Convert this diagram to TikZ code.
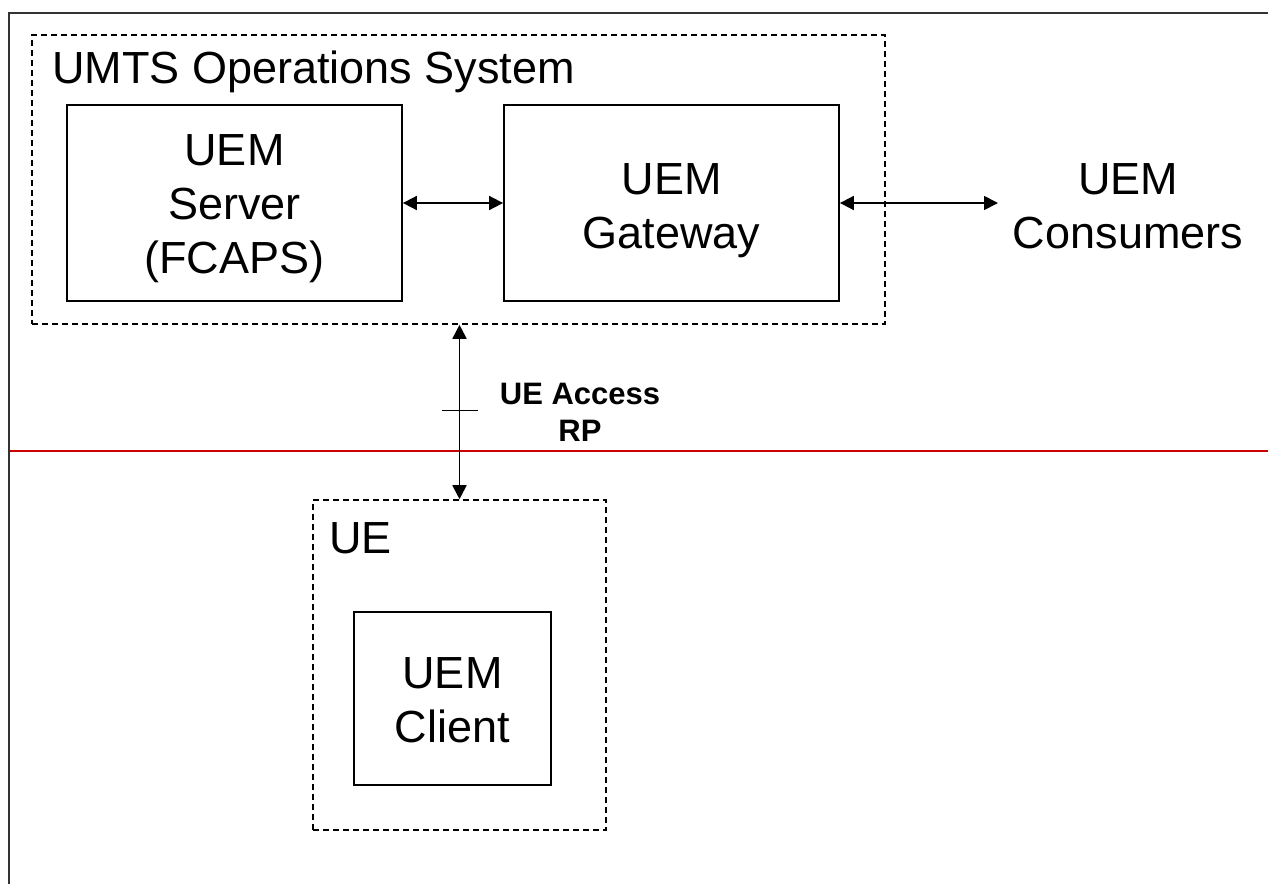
\documentclass[tikz,border=0pt]{standalone}
\usepackage{fontspec}
\setmainfont{Liberation Sans}
\usetikzlibrary{arrows.meta}
\begin{document}
\begin{tikzpicture}[x=1pt,y=-1pt,
  solidbox/.style={draw=black,line width=1.8pt,minimum width=#1,inner sep=0pt},
  dashbox/.style={draw=black,line width=1.6pt,dash pattern=on 6pt off 4pt,inner sep=0pt},
  big/.style={font=\fontsize{45}{54}\selectfont,align=center,inner sep=0pt},
  link/.style={line width=1.8pt,{Triangle[length=14pt,width=14pt]}-{Triangle[length=14pt,width=14pt]}},
  frameline/.style={line width=2pt,draw=black!80}]
\useasboundingbox (0,0) rectangle (1268,884);
% frame
\draw[frameline] (8.5,884) -- (8.5,12.7) -- (1268,12.7);
\draw[line width=1.5pt,draw=red!80!black] (9.5,451) -- (1268,451);
% containers
\node[dashbox,minimum width=853pt,minimum height=289pt] (umts) at (458.5,179.5) {};
\node[dashbox,minimum width=293pt,minimum height=330pt] (ue) at (459.5,665) {};
\node[big,anchor=base west] (umtslabel) at (52,83) {UMTS Operations System};
\node[big,anchor=base west] (uelabel) at (329,553) {UE};
% boxes
\node[solidbox=335pt,minimum height=196pt] (server) at (234.5,203) {};
\node[big] (servertext) at (234.5,209) {UEM\\Server\\(FCAPS)};
\node[solidbox=335pt,minimum height=196pt] (gateway) at (671.5,203) {};
\node[big] (gatewaytext) at (671.5,211) {UEM\\Gateway};
\node[solidbox=197pt,minimum height=173pt] (client) at (452.5,698.5) {};
\node[big] (clienttext) at (452.5,700) {UEM\\Client};
\node[big] (consumers) at (1128,206) {UEM\\Consumers};
\coordinate (consend) at (998,203);
% connectors
\draw[link] (server.east) -- (gateway.west);
\draw[link] (gateway.east) -- (consend);
\draw[link] (ue.north |- umts.south) -- (ue.north);
\coordinate (tick) at (459.5,410);
\draw[line width=1pt] ([xshift=-18pt]tick) -- ([xshift=18pt]tick);
\node[font=\bfseries\fontsize{31}{37}\selectfont,align=center,inner sep=0pt] (rp) at (580,412) {UE Access\\RP};
\end{tikzpicture}
\end{document}
